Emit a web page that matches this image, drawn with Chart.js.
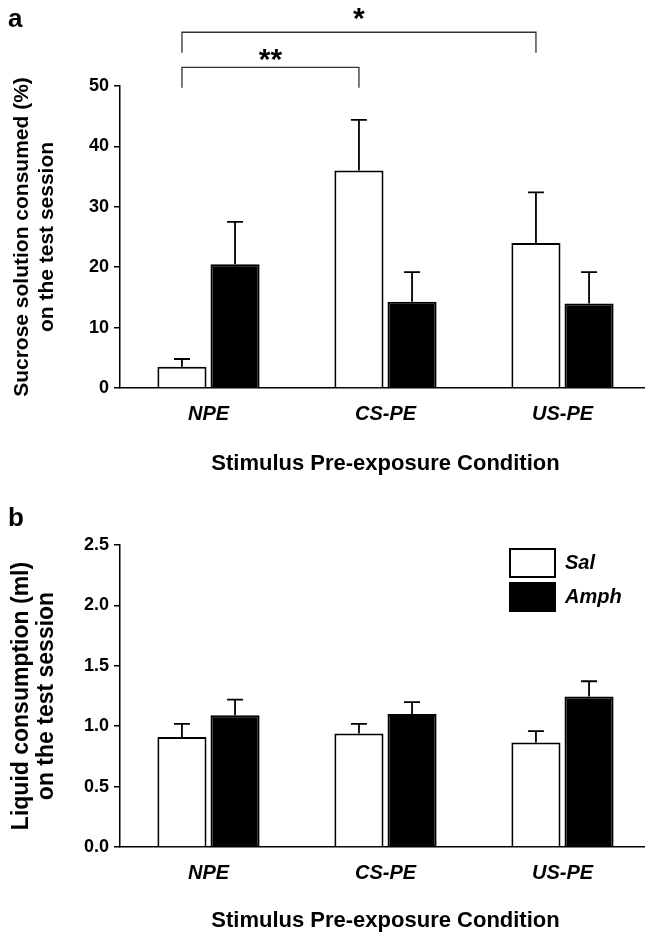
<!DOCTYPE html>
<html>
<head>
<script src="https://cdn.jsdelivr.net/npm/chart.js"></script>
<style>
  body { margin: 0; overflow: hidden; background: #fff; width: 645px; height: 932px; }
  .panel { position: absolute; left: 0; width: 655px; }
  #wrapA { top: 0; height: 480px; }
  #wrapB { top: 480px; height: 452px; }
</style>
</head>
<body>
<div class="panel" id="wrapA"><canvas id="chartA"></canvas></div>
<div class="panel" id="wrapB"><canvas id="chartB"></canvas></div>
<script>
const categories = ['NPE', 'CS-PE', 'US-PE'];
const groups = ['Sal', 'Amph'];

// panel a: sucrose solution consumed (%), mean and upper SEM
const sucroseSal = [3.5, 36.0, 24.0];
const sucroseSalErr = [1.3, 8.4, 8.4];
const sucroseAmph = [20.5, 14.3, 14.0];
const sucroseAmphErr = [7.0, 4.9, 5.2];

// panel b: liquid consumption (ml)
const liquidSal = [0.91, 0.94, 0.865];
const liquidSalErr = [0.11, 0.08, 0.095];
const liquidAmph = [1.09, 1.10, 1.245];
const liquidAmphErr = [0.13, 0.10, 0.127];

const yTicksA = [0, 10, 20, 30, 40, 50];
const yTicksB = [0, 0.5, 1.0, 1.5, 2.0, 2.5];

// significance between Sal bars: [from category, to category, label]
const sigPairs = [[0, 1, '**'], [0, 2, '*']];

const FONT = '"Liberation Sans", Arial, Helvetica, sans-serif';

const errorBars = {
  id: 'errorBars',
  afterDatasetsDraw(chart, args, opts) {
    const ctx = chart.ctx, y = chart.scales.y;
    ctx.save();
    ctx.strokeStyle = '#000';
    ctx.lineWidth = opts.width;
    chart.data.datasets.forEach((ds, di) => {
      chart.getDatasetMeta(di).data.forEach((bar, i) => {
        const top = y.getPixelForValue(ds.data[i] + ds.errors[i]);
        ctx.beginPath();
        ctx.moveTo(bar.x, bar.y);
        ctx.lineTo(bar.x, top);
        ctx.moveTo(bar.x - opts.cap / 2, top);
        ctx.lineTo(bar.x + opts.cap / 2, top);
        ctx.stroke();
      });
    });
    ctx.restore();
  }
};

const brackets = {
  id: 'brackets',
  afterDraw(chart, args, opts) {
    if (!opts.pairs) return;
    const ctx = chart.ctx, y = chart.scales.y;
    const bars = chart.getDatasetMeta(0).data;
    ctx.save();
    opts.pairs.forEach((p, k) => {
      const lv = opts.levels[k];
      const x1 = bars[p[0]].x, x2 = bars[p[1]].x;
      const yl = y.getPixelForValue(lv.line), yb = y.getPixelForValue(lv.leg);
      ctx.strokeStyle = '#333';
      ctx.lineWidth = 1.3;
      ctx.beginPath();
      ctx.moveTo(x1, yb); ctx.lineTo(x1, yl); ctx.lineTo(x2, yl); ctx.lineTo(x2, yb);
      ctx.stroke();
      ctx.fillStyle = '#000';
      ctx.font = 'bold 30px ' + FONT;
      ctx.textAlign = 'center';
      ctx.textBaseline = 'middle';
      ctx.fillText(p[2], (x1 + x2) / 2, y.getPixelForValue(lv.text));
    });
    ctx.restore();
  }
};

// put the legend box at a fixed spot inside the plot
const legendSpot = {
  id: 'legendSpot',
  afterLayout(chart, args, opts) {
    const l = chart.legend;
    if (!l || opts.x == null) return;
    const w = l.width, h = l.height;
    l.left = opts.x; l.right = opts.x + w;
    l.top = opts.y; l.bottom = opts.y + h;
  }
};

function makeChart(id, cfg) {
  const datasets = [
    { label: groups[0], data: cfg.sal, errors: cfg.salErr, backgroundColor: '#fff', borderColor: '#000', borderWidth: 2 },
    { label: groups[1], data: cfg.amph, errors: cfg.amphErr, backgroundColor: '#000', borderColor: '#000', borderWidth: 2 }
  ];
  return new Chart(document.getElementById(id), {
    type: 'bar',
    data: { labels: categories, datasets },
    plugins: [errorBars, brackets, legendSpot],
    options: {
      animation: false,
      responsive: true,
      maintainAspectRatio: false,
      categoryPercentage: 0.6,
      barPercentage: 0.925,
      layout: { padding: { left: 8, right: 4, top: 0, bottom: 0 } },
      scales: {
        x: {
          afterFit(s) { s.height = cfg.xHeight; },
          grid: { display: false, drawTicks: false },
          border: { display: true, color: '#000', width: 1.5 },
          ticks: { color: '#000', padding: 14, font: { family: FONT, size: 20, weight: 'bold', style: 'italic' } },
          title: {
            display: true, text: 'Stimulus Pre-exposure Condition', color: '#000',
            font: { family: FONT, size: 22, weight: 'bold', lineHeight: 1 },
            padding: { top: 0, bottom: cfg.xTitleBottom }
          }
        },
        y: {
          min: cfg.ticks[0], max: cfg.ticks[cfg.ticks.length - 1],
          afterFit(s) { s.width = 112; },
          afterBuildTicks(s) { s.ticks = cfg.ticks.map(v => ({ value: v })); },
          grid: { display: true, drawOnChartArea: false, drawTicks: true, tickLength: 6, color: '#000', lineWidth: 1.5 },
          border: { display: true, color: '#000', width: 1.5 },
          ticks: {
            color: '#000', padding: 5,
            font: { family: FONT, size: 18, weight: 'bold' },
            callback: cfg.fmt
          },
          title: {
            display: true, text: cfg.yTitle, color: '#000',
            font: { family: FONT, size: cfg.yTitleSize, weight: 'bold', lineHeight: 25 / cfg.yTitleSize },
            padding: { top: 1.5, bottom: 0 }
          }
        }
      },
      plugins: {
        title: {
          display: true, text: cfg.letter, align: 'start', color: '#000',
          font: { family: FONT, size: 26, weight: 'bold', lineHeight: 1.2 },
          padding: cfg.letterPad
        },
        legend: {
          display: cfg.legend,
          position: 'chartArea',
          align: 'start',
          labels: {
            color: '#000', boxWidth: 45, boxHeight: 28, padding: 6,
            font: { family: FONT, size: 20, weight: 'bold', style: 'italic' }
          }
        },
        tooltip: { enabled: false },
        errorBars: { width: 1.8, cap: 16 },
        brackets: cfg.brackets,
        legendSpot: cfg.legendSpot
      }
    }
  });
}

makeChart('chartA', {
  sal: sucroseSal, salErr: sucroseSalErr, amph: sucroseAmph, amphErr: sucroseAmphErr,
  ticks: yTicksA, fmt: v => String(v),
  yTitle: ['Sucrose solution consumed (%)', 'on the test session'], yTitleSize: 21,
  letter: 'a', letterPad: { top: 4, bottom: 86 - 4 - 31.2 },
  xHeight: 480 - 388, xTitleBottom: 5,
  legend: false,
  brackets: { pairs: sigPairs, levels: [
    { line: 53.1, leg: 49.7, text: 54.2 },
    { line: 58.9, leg: 55.5, text: 61.0 }
  ] },
  legendSpot: {}
});

makeChart('chartB', {
  sal: liquidSal, salErr: liquidSalErr, amph: liquidAmph, amphErr: liquidAmphErr,
  ticks: yTicksB, fmt: v => v.toFixed(1),
  yTitle: ['Liquid consumption (ml)', 'on the test session'], yTitleSize: 23,
  letter: 'b', letterPad: { top: 23, bottom: 65 - 23 - 31.2 },
  xHeight: 452 - 367, xTitleBottom: 0,
  legend: true,
  brackets: {},
  legendSpot: { x: 504, y: 63 }
});
</script>
</body>
</html>
